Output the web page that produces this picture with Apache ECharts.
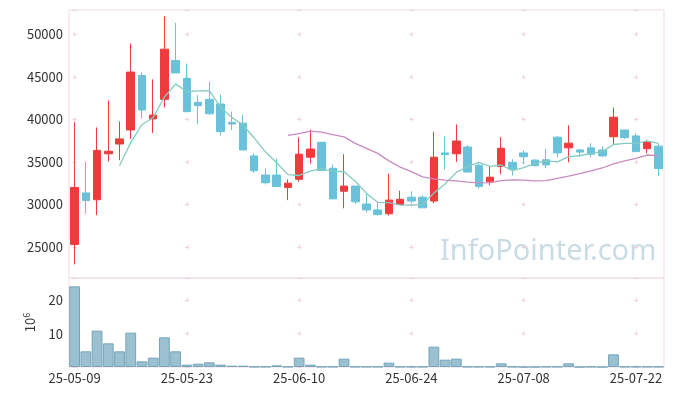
<!DOCTYPE html>
<html><head><meta charset="utf-8">
<script src="https://cdn.jsdelivr.net/npm/echarts@6/dist/echarts.min.js"></script>
<style>html,body{margin:0;padding:0;background:#fff}#c{width:676px;height:396px}</style>
</head><body><div id="c"></div>
<script>
const dates = ['25-05-09','25-05-12','25-05-13','25-05-14','25-05-15','25-05-16','25-05-19','25-05-20','25-05-21','25-05-22',
'25-05-23','25-05-26','25-05-27','25-05-28','25-05-29','25-05-30','25-06-02','25-06-04','25-06-05','25-06-09',
'25-06-10','25-06-11','25-06-12','25-06-13','25-06-16','25-06-17','25-06-18','25-06-19','25-06-20','25-06-23',
'25-06-24','25-06-25','25-06-26','25-06-27','25-06-30','25-07-01','25-07-02','25-07-03','25-07-04','25-07-07',
'25-07-08','25-07-09','25-07-10','25-07-11','25-07-14','25-07-15','25-07-16','25-07-17','25-07-18','25-07-21',
'25-07-22','25-07-23','25-07-24'];
const openP  = [25300,31350,30550,35950,37100,38750,45150,40050,42350,46900,44800,42000,42350,41800,39650,39550,35700,33450,33450,32000,32950,35550,37300,34250,31550,32150,30050,29350,28900,30000,30850,30850,30400,36050,35950,36750,34600,32650,34450,34950,36050,35200,35250,37900,36650,36400,36650,36400,37950,38750,38050,36550,36850];
const closeP = [32000,30450,36350,36250,37700,45550,41100,40500,48250,45450,40900,41600,40650,38550,39450,36400,33950,32550,32100,32500,35900,36500,34000,30650,32150,30300,29350,28800,30500,30600,30400,29600,35550,35850,37450,33800,32100,33200,36600,34150,35600,34550,34650,36050,37200,36150,35900,35700,40250,37850,36200,37300,34200];
const lowP   = [22950,28900,28750,35050,35200,37700,40100,38400,41400,45450,40900,39400,40550,38100,38750,36400,33700,32350,32100,30500,32650,34800,34000,30650,29550,30050,29050,28700,28700,30000,30150,29600,30150,34100,35000,33800,31850,32250,33550,33400,34700,34550,34250,35550,34950,35600,35500,35550,37100,37700,36200,36000,33350];
const highP  = [39650,35000,39050,42200,39750,48900,45550,44700,52100,51350,46550,42850,44450,42900,40900,40550,36000,34250,35400,32950,37900,38800,37300,34700,35900,32150,31350,30300,33600,31600,31550,31050,38550,38000,39400,36950,34800,34450,37900,35300,36350,35350,36500,38050,39300,36550,37200,36850,41400,38750,38350,37550,37150];
const volumeM = [24.2,4.7,10.9,7.1,4.7,10.3,1.7,2.8,8.9,4.7,0.7,1.0,1.4,0.7,0.4,0.4,0.1,0.1,0.5,0.1,2.8,0.7,0.1,0.1,2.5,0.1,0.1,0.1,1.3,0.1,0.1,0.1,6.1,2.2,2.5,0.1,0.1,0.1,1.1,0.1,0,0,0.1,0.1,1.1,0,0.1,0,3.8,0.1,0.1,0.1,0.1];
const ma5 = ['-','-','-','-',34550,37260,39390,40220,42620,44170,43240,43340,43370,41430,40230,39330,37800,36180,34890,33500,33400,33910,34200,33910,33840,32720,31290,30250,30220,29910,29930,29980,31330,32400,33770,34450,34950,34480,34630,33970,34330,34820,35110,35000,35610,35720,35990,36200,37040,37170,37180,37460,37160];
const ma20 = ['-','-','-','-','-','-','-','-','-','-','-','-','-','-','-','-','-','-','-',38113,38308,38610,38493,38213,37935,37173,36585,36000,35113,34370,33845,33245,32990,32855,32755,32625,32533,32565,32790,32873,32858,32760,32793,33063,33315,33608,33935,34280,34768,35130,35420,35805,35738];
const labelEvery = 10;

const candleData = openP.map((o, i) => [o, closeP[i], lowP[i], highP[i]]);
const font = 'Noto Sans CJK KR';
const pink = '#f3dbe4';
const plus = '#efcfdb';
const plain = v => String(v);

const chart = echarts.init(document.getElementById('c'), null, {renderer: 'canvas'});
chart.setOption({
  animation: false,
  backgroundColor: '#fff',
  textStyle: {fontFamily: font},
  grid: [
    {left: 69, right: 12, top: 10, height: 268, show: true, borderColor: pink, borderWidth: 1},
    {left: 69, right: 12, top: 278, height: 89, show: true, borderColor: pink, borderWidth: 1}
  ],
  xAxis: [
    {type: 'category', gridIndex: 0, data: dates, boundaryGap: true,
     axisLine: {show: false}, axisTick: {show: false}, axisLabel: {show: false},
     splitLine: {show: true, interval: labelEvery - 1, alignWithLabel: true,
       lineStyle: {color: plus, width: 1, type: [4, 38.54], dashOffset: 20.3}}},
    {type: 'category', gridIndex: 1, data: dates, boundaryGap: true,
     axisLine: {show: false}, axisTick: {show: false},
     axisLabel: {interval: labelEvery - 1, color: '#333', fontSize: 13, margin: 5, fontFamily: font},
     splitLine: {show: true, interval: labelEvery - 1, alignWithLabel: true,
       lineStyle: {color: plus, width: 1, type: [4, 29.33], dashOffset: 13.3}}}
  ],
  yAxis: [
    {type: 'value', gridIndex: 0, min: 21350, max: 52850, splitNumber: 5, scale: true,
     axisLine: {show: false}, axisTick: {show: false},
     axisLabel: {color: '#333', fontSize: 13, margin: 6, showMinLabel: false, showMaxLabel: false, fontFamily: font, formatter: plain},
     splitLine: {show: true, lineStyle: {color: plus, width: 1, type: [4, 108.26], dashOffset: 108.6}}},
    {type: 'value', gridIndex: 1, min: 0, max: 26.7, interval: 10,
     name: '{a|10}{b|6}', nameLocation: 'middle', nameRotate: 90, nameGap: 30,
     nameTextStyle: {rich: {a: {fontSize: 13, color: '#333', fontFamily: font}, b: {fontSize: 9, color: '#333', fontFamily: font, padding: [0, 0, 8, 0]}}},
     axisLine: {show: false}, axisTick: {show: false},
     axisLabel: {color: '#333', fontSize: 13, margin: 6, showMinLabel: false, showMaxLabel: false, fontFamily: font, formatter: plain},
     splitLine: {show: true, lineStyle: {color: plus, width: 1, type: [4, 108.26], dashOffset: 108.6}}}
  ],
  graphic: [{
    type: 'text', left: 440, top: 237, z: 0, silent: true,
    style: {text: 'InfoPointer.com', fill: '#c9dce6', font: '29px "Noto Sans"'}
  }],
  series: [
    {type: 'candlestick', xAxisIndex: 0, yAxisIndex: 0, data: candleData, barWidth: 8,
     itemStyle: {color: '#ef3b3b', color0: '#69c2d9', borderColor: '#ef3b3b', borderColor0: '#69c2d9', borderWidth: 1}},
    {type: 'line', xAxisIndex: 0, yAxisIndex: 0, data: ma5, showSymbol: false, symbol: 'none',
     lineStyle: {color: '#86cbc1', width: 1.3}, z: 3},
    {type: 'line', xAxisIndex: 0, yAxisIndex: 0, data: ma20, showSymbol: false, symbol: 'none',
     lineStyle: {color: '#c98bbf', width: 1.3}, z: 3},
    {type: 'bar', xAxisIndex: 1, yAxisIndex: 1, data: volumeM, barCategoryGap: '4%',
     itemStyle: {color: '#9bc1d1', borderColor: '#74a4bc', borderWidth: 1}}
  ]
});
</script></body></html>
